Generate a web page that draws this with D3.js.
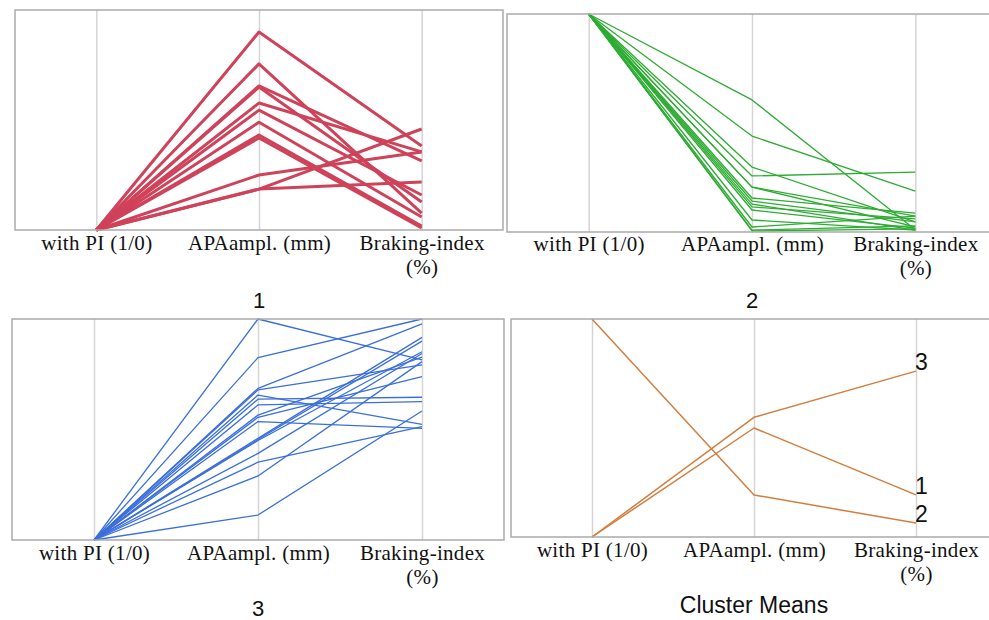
<!DOCTYPE html>
<html>
<head>
<meta charset="utf-8">
<script src="https://cdn.jsdelivr.net/npm/d3@7"></script>
<style>
  body { margin: 0; background: #fff; }
  .title { font-family: "Liberation Sans", Arial, sans-serif; fill: #111; }
</style>
</head>
<body>
<svg width="989" height="620"></svg>
<script>
// axes of the parallel plot (values read as share of each axis range, 0 = bottom, 1 = top)
const dims = ["with PI (1/0)", "APAampl. (mm)", "Braking-index (%)"];

// cluster 1
const c1Pi    = [0, 0, 0, 0, 0, 0, 0, 0, 0, 0, 0, 0];
const c1Apa   = [0.90, 0.755, 0.655, 0.65, 0.577, 0.545, 0.49, 0.432, 0.418, 0.25, 0.186, 0.186];
const c1Brake = [0.382, 0.077, 0.314, 0.127, 0.355, 0.159, 0.059, 0.018, 0.009, 0.355, 0.218, 0.459];

// cluster 2
const c2Pi    = [1, 1, 1, 1, 1, 1, 1, 1, 1, 1, 1, 1, 1, 1, 1];
const c2Apa   = [0.606, 0.44, 0.298, 0.257, 0.206, 0.206, 0.156, 0.142, 0.128, 0.115, 0.101, 0.055, 0.023, 0.009, 0.005];
const c2Brake = [0.01, 0.188, 0.046, 0.275, 0.073, 0.023, 0.087, 0.046, 0.009, 0.06, 0.018, 0.009, 0.073, 0.028, 0.014];

// cluster 3
const c3Pi    = [0, 0, 0, 0, 0, 0, 0, 0, 0, 0, 0, 0, 0, 0, 0, 0, 0];
const c3Apa   = [1.0, 0.825, 0.686, 0.679, 0.656, 0.637, 0.611, 0.565, 0.555, 0.536, 0.46, 0.455, 0.45, 0.392, 0.352, 0.29, 0.113];
const c3Brake = [0.815, 1.0, 0.978, 0.792, 0.523, 0.646, 0.626, 0.827, 0.739, 0.505, 0.917, 0.90, 0.852, 0.844, 0.513, 0.807, 0.584];

// cluster means
const meanNames = ["1", "2", "3"];
const meanPi    = [0, 1, 0];
const meanApa   = [0.50, 0.193, 0.549];
const meanBrake = [0.193, 0.064, 0.761];

const svg = d3.select("svg");

function rows(pi, apa, brake) {
    return pi.map((p, i) => [p, apa[i], brake[i]]);
}

function panel(p) {
    const g = svg.append("g");
    const x = d3.scalePoint().domain(dims).range([p.left, p.left + p.width]).padding(0.5);
    const y = d3.scaleLinear().domain([0, 1]).range([p.top + p.height, p.top]);

    const axis = g.append("g")
        .attr("transform", `translate(0,${p.top + p.height})`)
        .call(d3.axisBottom(x).tickSize(-p.height).tickPadding(0))
        .attr("font-family", "'Liberation Serif', 'Times New Roman', serif")
        .attr("font-size", 21);
    axis.select(".domain").remove();
    axis.selectAll(".tick line").attr("stroke", "#d4d4d4").attr("stroke-width", 1.5);
    axis.selectAll(".tick text")
        .attr("fill", "#111")
        .attr("dy", null)
        .attr("y", p.labelDy)
        .style("letter-spacing", "0.3px")
        .text(null)
        .each(function(d) {
            const parts = d === "Braking-index (%)" ? ["Braking-index", "(%)"] : [d];
            const t = d3.select(this);
            parts.forEach((s, i) => {
                t.append("tspan").attr("x", 0).attr("dy", i ? 24 : 0).text(s);
            });
        });

    const line = d3.line().x((d, i) => x(dims[i])).y(d => y(d));
    g.selectAll(".pc")
        .data(p.data)
        .join("path")
        .attr("class", "pc")
        .attr("d", line)
        .attr("fill", "none")
        .attr("stroke", p.color)
        .attr("stroke-width", p.lw)
        .attr("stroke-linejoin", "round");

    if (p.names) {
        g.selectAll(".mlab")
            .data(p.data)
            .join("text")
            .attr("class", "title")
            .attr("x", x(dims[2]) - 1)
            .attr("y", d => y(d[2]) - 1)
            .style("font-size", "23px")
            .text((d, i) => p.names[i]);
    }

    g.append("rect")
        .attr("x", p.left)
        .attr("y", p.top)
        .attr("width", p.width)
        .attr("height", p.height)
        .attr("fill", "none")
        .attr("stroke", "#aaaaaa")
        .attr("stroke-width", 1.5);

    g.append("text")
        .attr("class", "title")
        .attr("x", x(dims[1]))
        .attr("y", p.top + p.height + p.titleDy)
        .attr("text-anchor", "middle")
        .style("font-size", p.titleSize + "px")
        .text(p.title);
}

panel({left: 15, top: 10, width: 488, height: 220, labelDy: 20, titleDy: 78, titleSize: 22,
       data: rows(c1Pi, c1Apa, c1Brake), color: "#cf4259", lw: 3, title: "1"});
panel({left: 507, top: 14, width: 490, height: 218, labelDy: 19, titleDy: 76, titleSize: 22,
       data: rows(c2Pi, c2Apa, c2Brake), color: "#2eac33", lw: 1.3, title: "2"});
panel({left: 12, top: 319, width: 492, height: 221, labelDy: 20, titleDy: 76, titleSize: 22,
       data: rows(c3Pi, c3Apa, c3Brake), color: "#3b6fdb", lw: 1.3, title: "3"});
panel({left: 511, top: 319, width: 486, height: 218, labelDy: 20, titleDy: 76, titleSize: 23,
       data: rows(meanPi, meanApa, meanBrake), color: "#d27e3f", lw: 1.5, title: "Cluster Means",
       names: meanNames});
</script>
</body>
</html>
